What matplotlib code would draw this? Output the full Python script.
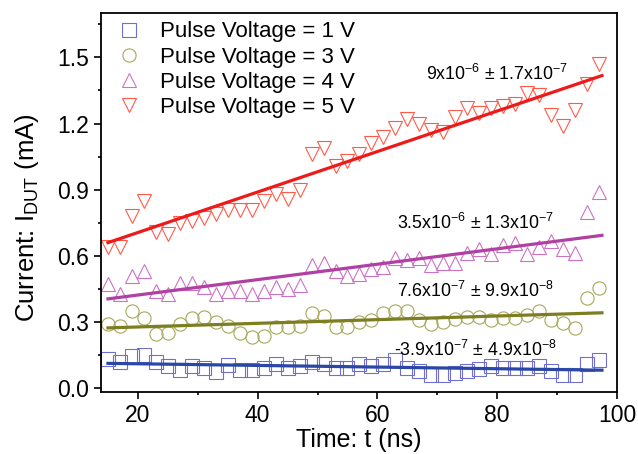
import numpy as np
import matplotlib.pyplot as plt
from matplotlib.ticker import MultipleLocator

plt.rcParams['font.family'] = ['Liberation Sans', 'DejaVu Sans']
plt.rcParams['mathtext.fontset'] = 'custom'
plt.rcParams['mathtext.rm'] = 'Liberation Sans'
plt.rcParams['mathtext.it'] = 'Liberation Sans:italic'

# time axis (ns)
t = np.arange(15, 99, 2)

i_1v = [0.135, 0.12, 0.145, 0.15, 0.12, 0.10, 0.085, 0.10, 0.095, 0.075,
        0.105, 0.085, 0.085, 0.095, 0.11, 0.095, 0.10, 0.12, 0.11, 0.095,
        0.095, 0.11, 0.10, 0.11, 0.13, 0.095, 0.077, 0.063, 0.063, 0.07,
        0.08, 0.09, 0.10, 0.095, 0.095, 0.095, 0.10, 0.078, 0.063, 0.063,
        0.11, 0.13]
i_3v = [0.29, 0.285, 0.35, 0.32, 0.245, 0.25, 0.29, 0.32, 0.325, 0.30,
        0.285, 0.25, 0.235, 0.24, 0.28, 0.28, 0.285, 0.34, 0.33, 0.28,
        0.28, 0.30, 0.31, 0.34, 0.35, 0.35, 0.31, 0.29, 0.30, 0.315,
        0.325, 0.325, 0.31, 0.32, 0.32, 0.335, 0.35, 0.31, 0.295, 0.275,
        0.41, 0.455]
i_4v = [0.475, 0.43, 0.51, 0.53, 0.44, 0.43, 0.48, 0.48, 0.46, 0.43,
        0.44, 0.44, 0.43, 0.44, 0.46, 0.45, 0.47, 0.56, 0.57, 0.53,
        0.51, 0.52, 0.54, 0.55, 0.59, 0.58, 0.59, 0.56, 0.57, 0.57,
        0.615, 0.63, 0.61, 0.65, 0.66, 0.61, 0.64, 0.67, 0.63, 0.615,
        0.80, 0.89]
i_5v = [0.64, 0.64, 0.78, 0.85, 0.71, 0.70, 0.75, 0.76, 0.77, 0.79,
        0.81, 0.81, 0.81, 0.85, 0.88, 0.86, 0.90, 1.06, 1.09, 1.01,
        1.03, 1.06, 1.11, 1.14, 1.18, 1.22, 1.20, 1.17, 1.16, 1.23,
        1.27, 1.25, 1.27, 1.28, 1.29, 1.34, 1.33, 1.24, 1.19, 1.26,
        1.38, 1.47]

labels = ['Pulse Voltage = 1 V', 'Pulse Voltage = 3 V',
          'Pulse Voltage = 4 V', 'Pulse Voltage = 5 V']
slopes = [r'-3.9x10$^{-7}$ $\pm$ 4.9x10$^{-8}$',
          r'7.6x10$^{-7}$ $\pm$ 9.9x10$^{-8}$',
          r'3.5x10$^{-6}$ $\pm$ 1.3x10$^{-7}$',
          r'9x10$^{-6}$ $\pm$ 1.7x10$^{-7}$']

markers = ['s', 'o', '^', 'v']
mcolors = ['#6f6fd0', '#a8a85a', '#cc72c4', '#ff5a48']
lcolors = ['#2b47a6', '#7d7d22', '#b040a2', '#ee1a1a']
text_pos = [(76.3, 0.176), (76.3, 0.44), (76.3, 0.75), (80.0, 1.425)]

fig = plt.figure(figsize=(6.38, 4.54), dpi=100)
ax = fig.add_axes([0.158, 0.137, 0.809, 0.834])

for y, m, mc, lc, lab, s, (tx, ty) in zip([i_1v, i_3v, i_4v, i_5v], markers, mcolors,
                                         lcolors, labels, slopes, text_pos):
    ax.plot(t, y, m, ms=9.5, mfc='none', mec=mc, mew=0.8, label=lab)
    k, b = np.polyfit(t, y, 1)
    xx = np.array([15, 97.5])
    ax.plot(xx, k * xx + b, '-', color=lc, lw=2.3)
    ax.text(tx, ty, s, fontsize=12.8, ha='center', va='center')

ax.set_xlim(13.8, 100)
ax.set_ylim(-0.015, 1.7)
ax.xaxis.set_major_locator(MultipleLocator(20))
ax.xaxis.set_minor_locator(MultipleLocator(10))
ax.yaxis.set_major_locator(MultipleLocator(0.3))
ax.yaxis.set_minor_locator(MultipleLocator(0.15))
ax.yaxis.set_major_formatter(plt.FormatStrFormatter('%.1f'))
ax.tick_params(which='both', direction='out', top=False, right=False,
               labelsize=16.5, width=1.2)
ax.tick_params(which='major', length=5)
ax.tick_params(which='minor', length=2.5)
for sp in ax.spines.values():
    sp.set_linewidth(1.3)

ax.set_xlabel('Time: t (ns)', fontsize=18, labelpad=1)
ax.set_ylabel(r'Current: I$_{\mathrm{DUT}}$ (mA)', fontsize=18.5)
ax.yaxis.set_label_coords(-0.115, 0.46)

ax.legend(loc='upper left', bbox_to_anchor=(0.0, 1.005), frameon=False,
          fontsize=16, handlelength=1.6, handletextpad=0.6,
          labelspacing=0.185, borderaxespad=0.06)

fig.savefig('out.png', dpi=100)
